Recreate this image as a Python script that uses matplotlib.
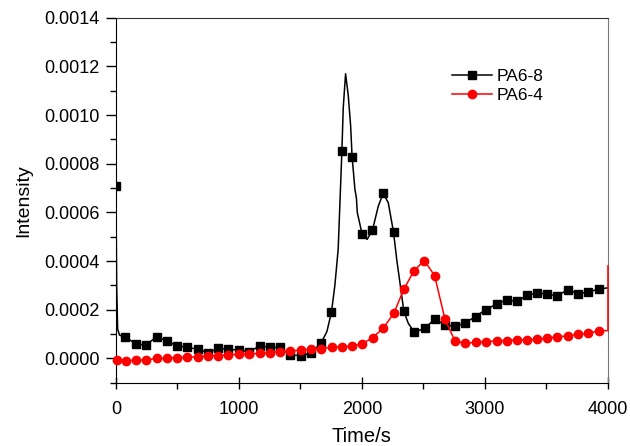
import matplotlib
matplotlib.use("Agg")
import matplotlib.pyplot as plt
from matplotlib.ticker import MultipleLocator, FormatStrFormatter

plt.rcParams['font.family'] = ['Liberation Sans', 'DejaVu Sans']

# PA6-8: line readings (markers only on the listed indices)
pa68_t = [0, 6, 14, 30, 73, 163, 244, 331, 412, 493, 580, 664, 750, 832, 913,
          1000, 1084, 1171, 1252, 1333, 1415, 1501, 1585, 1670, 1715, 1752,
          1780, 1807, 1837, 1848, 1867, 1889, 1908, 1920, 1943, 1955, 1962,
          2001, 2042, 2085, 2133, 2173, 2214, 2257, 2283, 2341, 2376, 2425,
          2512, 2591, 2675, 2756, 2837, 2924, 3005, 3095, 3176, 3257, 3344,
          3425, 3507, 3588, 3672, 3759, 3840, 3930, 4000]
pa68_y = [0.00071, 0.00030, 0.00012, 0.000095, 0.000089, 0.000059, 0.000055,
          0.000089, 0.0000715, 0.000052, 0.000045, 0.000038, 0.000023,
          0.000041, 0.000037, 0.000034, 0.000027, 0.000052, 0.000045,
          0.000045, 0.000014, 0.000011, 0.000021, 0.000065, 0.00011,
          0.000189, 0.00030, 0.00045, 0.000851, 0.00103, 0.00117, 0.00108,
          0.000957, 0.000829, 0.000695, 0.00066, 0.00060, 0.000512,
          0.000489, 0.000526, 0.000626, 0.000678, 0.00064, 0.000518,
          0.000406, 0.000193, 0.000145, 0.000107, 0.000124, 0.000161,
          0.000138, 0.000131, 0.000145, 0.000172, 0.0002, 0.000223,
          0.000241, 0.000234, 0.000259, 0.000269, 0.000264, 0.000257,
          0.000282, 0.000266, 0.000273, 0.000285, 0.00029]
pa68_marked = [0, 4, 5, 6, 7, 8, 9, 10, 11, 12, 13, 14, 15, 16, 17, 18, 19,
               20, 21, 22, 23, 25, 28, 33, 37, 39, 41, 43, 45, 47, 48, 49, 50,
               51, 52, 53, 54, 55, 56, 57, 58, 59, 60, 61, 62, 63, 64, 65]

# PA6-4
pa64_t = [5, 84, 163, 244, 331, 412, 493, 580, 664, 750, 832, 913, 1000,
          1084, 1171, 1252, 1333, 1415, 1501, 1585, 1670, 1753, 1837, 1919,
          2000, 2087, 2173, 2260, 2341, 2425, 2507, 2591, 2675, 2756, 2837,
          2924, 3005, 3095, 3176, 3257, 3344, 3425, 3507, 3588, 3672, 3759,
          3840, 3930, 4000, 4000]
pa64_y = [-0.000007, -0.00001, -0.000007, -0.000007, 0.0, 0.0, 0.000003,
          0.000004, 0.000007, 0.00001, 0.000011, 0.000014, 0.000017,
          0.000017, 0.000021, 0.000023, 0.000028, 0.00003, 0.000034,
          0.000037, 0.00004, 0.000045, 0.000048, 0.000051, 0.000059,
          0.000085, 0.000124, 0.000186, 0.000285, 0.000361, 0.000402,
          0.00034, 0.000161, 0.0000715, 0.000062, 0.000066, 0.000069,
          0.000071, 0.000073, 0.000076, 0.000076, 0.000078, 0.000083,
          0.000089, 0.000092, 0.000099, 0.000103, 0.000114, 0.000114,
          0.00038]
pa64_marked = list(range(48))

fig = plt.figure(figsize=(6.3, 4.46), dpi=100)
ax = fig.add_axes([0.184, 0.142, 0.781, 0.818])

ax.plot(pa68_t, pa68_y, '-', color='black', lw=1.1, marker='s', ms=5.2,
        markevery=pa68_marked, label='PA6-8')
ax.plot(pa64_t, pa64_y, '-', color='#ff0000', lw=1.1, marker='o', ms=6,
        markevery=pa64_marked, label='PA6-4', zorder=3, clip_on=False)

ax.set_xlim(0, 4000)
ax.set_ylim(-0.0001, 0.0014)
ax.xaxis.set_major_locator(MultipleLocator(1000))
ax.xaxis.set_minor_locator(MultipleLocator(500))
ax.yaxis.set_major_locator(MultipleLocator(0.0002))
ax.yaxis.set_minor_locator(MultipleLocator(0.0001))
ax.yaxis.set_major_formatter(FormatStrFormatter('%.4f'))

ax.tick_params(axis='x', which='major', direction='inout', length=9, width=1,
               labelsize=13, pad=9)
ax.tick_params(axis='x', which='minor', direction='out', length=4, width=1)
ax.tick_params(axis='y', which='major', direction='out', length=7, width=1,
               labelsize=13, pad=5)
ax.tick_params(axis='y', which='minor', direction='out', length=4, width=1)

ax.spines['top'].set_color('#333333')
ax.spines['right'].set_color('#777777')

ax.set_xlabel('Time/s', fontsize=14.5, labelpad=6)
ax.set_ylabel('Intensity', fontsize=14, labelpad=8)

ax.legend(loc='upper left', bbox_to_anchor=(0.683, 0.86), frameon=False,
          fontsize=12.5, handlelength=2.3, handletextpad=0.3,
          labelspacing=0.2, borderpad=0, borderaxespad=0)

fig.savefig('out.png', dpi=100)
